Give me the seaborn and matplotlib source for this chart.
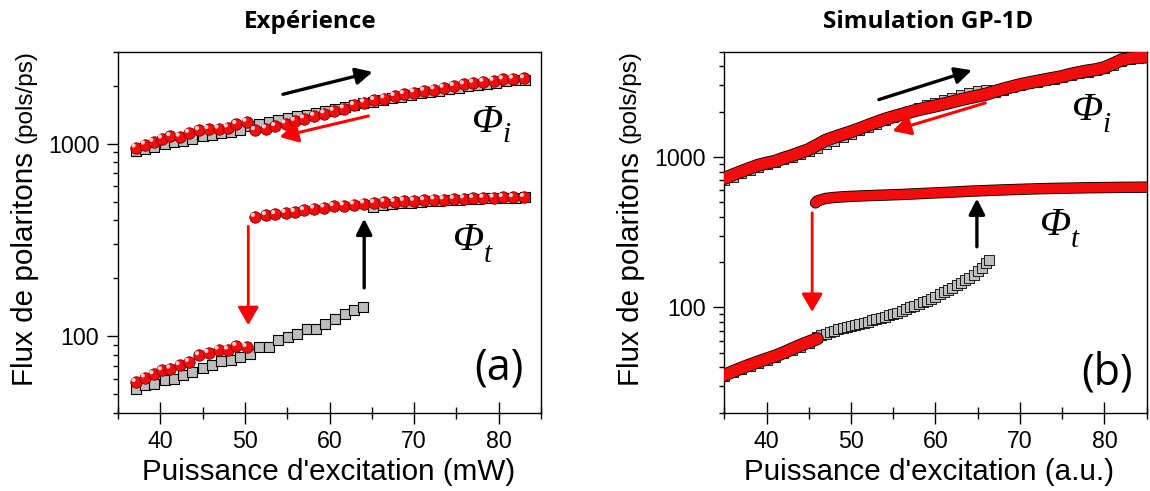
import matplotlib
matplotlib.use("Agg")
import matplotlib.pyplot as plt
import matplotlib.ticker as mticker
from matplotlib.transforms import offset_copy
import seaborn as sns

# ---------------- Panel (a) : experiment ----------------
# up-sweep (grey squares)
exp_sq_x = [37.1, 38.2, 39.3, 40.5, 41.6, 42.7, 43.8, 45.0, 46.1, 47.2, 48.3, 49.4,
            50.6, 51.7, 52.8, 53.9, 55.1, 56.2, 57.3, 58.4, 59.5, 60.7, 61.8, 62.9,
            64.0, 65.2, 66.3, 67.4, 68.5, 69.6, 70.8, 71.9, 73.0, 74.1, 75.3, 76.4,
            77.5, 78.6, 79.7, 80.9, 82.0, 83.1]
exp_sq_phi_i = [915, 940, 965, 990, 1015, 1035, 1060, 1090, 1110, 1130, 1150, 1175,
                1240, 1265, 1295, 1325, 1355, 1385, 1415, 1445, 1475, 1510, 1545, 1580,
                1615, 1650, 1680, 1720, 1755, 1790, 1820, 1850, 1880, 1915, 1950, 1985,
                2020, 2050, 2075, 2105, 2130, 2150]
exp_sq_phi_t_low = [53.3, 55.4, 56.6, 58.9, 60.1, 62.5, 65.0, 68.2, 71.0, 73.9, 74.8,
                    77.8, 81.0, 87.7, 87.7, 95.0, 98.8, 102.9, 109.2, 109.2, 115.9,
                    123.1, 130.7, 136.1, 141.6]
exp_sq_phi_t_high = [470, 478, 484, 490, 494, 498, 502, 506, 509, 512, 515, 517, 519,
                     521, 523, 524, 526]

# down-sweep (red circles)
exp_red_x_low = [37.1, 38.2, 39.2, 40.2, 41.2, 42.3, 43.4, 44.6, 45.7, 46.9, 48.0,
                 49.0, 50.2]
exp_red_phi_i_low = [953, 988, 1019, 1061, 1091, 1085, 1135, 1173, 1187, 1195, 1211,
                     1260, 1295]
exp_red_phi_t_low = [57.6, 60.8, 63.2, 66.3, 67.7, 70.5, 73.3, 79.4, 81.6, 85.0, 85.0,
                     88.7, 87.7]
exp_red_x_high = [51.2, 52.5, 53.6, 54.8, 55.9, 57.0, 58.2, 59.4, 60.5, 61.7, 62.9,
                  64.1, 65.3, 66.5, 67.7, 68.8, 70.0, 71.2, 72.4, 73.5, 74.7, 75.9,
                  77.0, 78.2, 79.4, 80.5, 81.7, 83.0]
exp_red_phi_i_high = [1173, 1197, 1230, 1270, 1310, 1349, 1391, 1431, 1477, 1520, 1582,
                      1634, 1679, 1714, 1762, 1804, 1841, 1877, 1908, 1946, 1986, 2027,
                      2066, 2090, 2115, 2152, 2168, 2178]
exp_red_phi_t_high = [415, 424, 429, 436, 441, 450, 459, 465, 472, 476, 482, 488, 491,
                      497, 497, 503, 503, 507, 512, 512, 515, 518, 520, 522, 524, 526,
                      526, 527]

# ---------------- Panel (b) : GP-1D simulation ----------------
sim_x = [35, 36, 37, 38, 39, 40, 41, 42, 43, 44, 45, 46, 47, 48, 49, 50, 51, 52, 53,
         54, 55, 56, 57, 58, 59, 60, 61, 62, 63, 64, 65, 66, 67, 68, 69, 70, 71, 72,
         73, 74, 75, 76, 77, 78, 79, 80, 81, 82, 83, 84, 85]
sim_red_phi_i = [720, 760, 800, 840, 880, 910, 935, 980, 1020, 1070, 1120, 1200, 1290,
                 1350, 1410, 1470, 1540, 1620, 1700, 1780, 1850, 1920, 1990, 2060,
                 2120, 2180, 2250, 2320, 2400, 2470, 2540, 2610, 2720, 2820, 2920,
                 3020, 3100, 3180, 3260, 3340, 3420, 3540, 3640, 3730, 3800, 3920,
                 4150, 4400, 4520, 4580, 4620]
sim_sq_phi_i = [700, 740, 780, 820, 860, 895, 925, 965, 1005, 1050, 1095, 1150, 1210,
                1280, 1350, 1420, 1500, 1580, 1660, 1750, 1840, 1930, 2020, 2110, 2200,
                2290, 2380, 2470, 2560, 2650, 2730, 2800, 2700, 2800, 2900, 3000, 3080,
                3160, 3240, 3310, 3390, 3500, 3600, 3690, 3760, 3880, 4100, 4350, 4480,
                4540, 4590]

sim_red_x_high = [45.8, 46, 47, 48, 49, 50, 52, 54, 56, 58, 60, 62, 64, 66, 68, 70, 72,
                  74, 76, 78, 80, 82, 84, 85]
sim_red_phi_t_high = [495, 510, 530, 538, 543, 547, 553, 558, 563, 570, 577, 584, 592,
                      598, 604, 609, 614, 618, 621, 624, 626, 628, 629, 630]
sim_sq_x_high = [65, 67, 69, 71, 73, 75, 77, 79, 81, 83, 85]
sim_sq_phi_t_high = [600, 608, 615, 620, 624, 628, 631, 634, 636, 637, 638]

sim_red_x_low = [35, 36, 37, 38, 39, 40, 41, 42, 43, 44, 45, 46]
sim_red_phi_t_low = [35.5, 37.5, 39.5, 41.5, 43.5, 45.5, 47.5, 50, 53, 56, 59, 62]
sim_sq_x_low = [35, 36, 37, 38, 39, 40, 41, 42, 43, 44, 45, 46, 46.5, 47, 47.5, 48,
                48.5, 49, 49.5, 50, 50.5, 51, 51.5, 52, 52.5, 53, 53.5, 54, 54.5, 55,
                55.5, 56, 56.5, 57, 57.5, 58, 58.5, 59, 59.5, 60, 60.5, 61, 61.5, 62,
                62.5, 63, 63.5, 64, 64.5, 65, 65.5, 66, 66.3]
sim_sq_phi_t_low = [35, 37, 39, 41, 43, 45, 47, 49.5, 52, 55, 58, 64, 65.5, 67, 68.5,
                    70, 71.5, 72.5, 74, 75, 76, 77.5, 79, 80.5, 82, 83.5, 85, 86.5,
                    88.5, 90.5, 92.5, 95, 97.5, 100, 102.5, 105, 108, 111, 114.5, 118,
                    122, 126, 130, 135, 140, 146, 152, 158, 165, 174, 184, 196, 206]

# ---------------- figure ----------------
sns.set_style("ticks")
plt.rcParams["font.family"] = ["Liberation Sans", "DejaVu Sans"]
plt.rcParams["text.color"] = "black"

W, H = 1150, 491
fig = plt.figure(figsize=(W / 100, H / 100), dpi=100)


def fx(x):
    return x / W


def fy(y):
    return 1 - y / H


axA = fig.add_axes([fx(118), fy(412.7), 423 / W, 361 / H])
axB = fig.add_axes([fx(724.3), fy(412.7), 422.4 / W, 361 / H])

GREY = "#bdbdbd"
RED = "#f20c0c"


def style_axis(ax, ylim):
    ax.set_yscale("log")
    ax.set_xlim(35, 85)
    ax.set_ylim(*ylim)
    ax.xaxis.set_major_locator(mticker.MultipleLocator(10))
    ax.xaxis.set_minor_locator(mticker.MultipleLocator(5))
    ax.yaxis.set_major_locator(mticker.LogLocator(base=10))
    ax.yaxis.set_minor_locator(mticker.LogLocator(base=10, subs=range(2, 10)))
    ax.yaxis.set_major_formatter(mticker.FuncFormatter(lambda v, p: f"{v:g}"))
    ax.yaxis.set_minor_formatter(mticker.NullFormatter())
    ax.tick_params(axis="x", which="major", direction="inout", length=16, width=1,
                   labelsize=16.7, pad=4.5, colors="black")
    ax.tick_params(axis="x", which="minor", direction="inout", length=8.5, width=1,
                   colors="black")
    ax.tick_params(axis="y", which="major", direction="out", length=8, width=1,
                   labelsize=16.7, pad=5.5, colors="black")
    ax.tick_params(axis="y", which="minor", direction="out", length=3.8, width=1,
                   colors="black")
    ax.tick_params(top=False, right=False)
    for s in ax.spines.values():
        s.set_linewidth(1.0)
        s.set_color("black")
        s.set_visible(True)
    ax.set_xlabel("")
    ax.set_ylabel("")


style_axis(axA, (40, 3000))
style_axis(axB, (20, 5000))


def red_balls(ax, x, y):
    sns.scatterplot(x=x, y=y, marker="o", s=68, color=RED, edgecolor="#7a0000",
                    linewidth=0.6, ax=ax, zorder=3, legend=False)
    hl = offset_copy(ax.transData, fig=fig, x=-2.2, y=2.2, units="dots")
    ax.scatter(x, y, s=9, color="#ffd0d0", edgecolor="none", transform=hl, zorder=4)


def grey_squares(ax, x, y, s=52, lw=0.8):
    sns.scatterplot(x=x, y=y, marker="s", s=s, color=GREY, edgecolor="black",
                    linewidth=lw, ax=ax, zorder=2, legend=False)


# panel (a)
grey_squares(axA, exp_sq_x, exp_sq_phi_i)
grey_squares(axA, exp_sq_x[:25], exp_sq_phi_t_low)
grey_squares(axA, exp_sq_x[25:], exp_sq_phi_t_high)
red_balls(axA, exp_red_x_low, exp_red_phi_i_low)
red_balls(axA, exp_red_x_low, exp_red_phi_t_low)
red_balls(axA, exp_red_x_high, exp_red_phi_i_high)
red_balls(axA, exp_red_x_high, exp_red_phi_t_high)

# panel (b)
grey_squares(axB, sim_x, sim_sq_phi_i, s=42, lw=0.6)
grey_squares(axB, sim_sq_x_high, sim_sq_phi_t_high, s=30, lw=0.6)
grey_squares(axB, sim_sq_x_low, sim_sq_phi_t_low, s=45, lw=0.6)
for xs, ys, lw in [(sim_x, sim_red_phi_i, 8.2), (sim_red_x_high, sim_red_phi_t_high, 7.0),
                   (sim_red_x_low, sim_red_phi_t_low, 8.2)]:
    sns.lineplot(x=xs, y=ys, color="black", lw=lw + 1.2, estimator=None, ax=axB,
                 zorder=3, solid_capstyle="round")
    sns.lineplot(x=xs, y=ys, color=RED, lw=lw, estimator=None, ax=axB, zorder=4,
                 solid_capstyle="round")


def arrow(ax, tail, tip, color, lw, hl, hw):
    ax.annotate("", xy=tip, xytext=tail, xycoords="data", zorder=6,
                arrowprops=dict(arrowstyle=f"-|>,head_length={hl},head_width={hw}",
                                color=color, lw=lw, mutation_scale=20,
                                shrinkA=0, shrinkB=0))


arrow(axA, (54.5, 1803), (65.1, 2355), "black", 2.4, 0.5, 0.25)
arrow(axA, (64.6, 1391), (54.1, 1082), "red", 2.2, 0.55, 0.3)
arrow(axA, (50.4, 372), (50.4, 114), "red", 2.0, 0.55, 0.32)
arrow(axA, (64.1, 178), (64.1, 407), "black", 2.4, 0.47, 0.24)

arrow(axB, (53.3, 2404), (64.3, 3767), "black", 2.4, 0.5, 0.25)
arrow(axB, (65.9, 2284), (54.9, 1488), "red", 2.2, 0.55, 0.3)
arrow(axB, (45.4, 425), (45.4, 93.5), "red", 2.0, 0.55, 0.32)
arrow(axB, (64.9, 253), (64.9, 529), "black", 2.4, 0.47, 0.24)

# labels
for xc, txt in [(310.5, "Expérience"), (928, "Simulation GP-1D")]:
    fig.text(fx(xc), fy(28.3), txt, ha="center", va="baseline", fontsize=17.5,
             fontweight="bold", family=["Open Sans", "DejaVu Sans"])

for xc, txt in [(329, "Puissance d'excitation (mW)"), (928.7, "Puissance d'excitation (a.u.)")]:
    fig.text(fx(xc), fy(480), txt, ha="center", va="baseline", fontsize=21.3)

for xb, xs in [(33.3, 31.5), (639.3, 636)]:
    fig.text(fx(xb), fy(269.5), "Flux de polaritons", rotation=90, rotation_mode="anchor",
             ha="center", va="baseline", fontsize=21.3)
    fig.text(fx(xs), fy(97), "(pols/ps)", rotation=90, rotation_mode="anchor",
             ha="center", va="baseline", fontsize=17.5)

fig.text(fx(498.6), fy(368.5), "(a)", ha="center", va="center", fontsize=31,
         family=["Open Sans", "DejaVu Sans"])
fig.text(fx(1107), fy(373), "(b)", ha="center", va="center", fontsize=31,
         family=["Open Sans", "DejaVu Sans"])

serif = ["Liberation Serif", "DejaVu Serif"]
for (xl, yb, xs, ys, sub) in [(471.7, 131.7, 502, 141.7, "i"),
                              (452.7, 250, 484, 262, "t"),
                              (1071.7, 120, 1102, 131.7, "i"),
                              (1040, 235, 1071, 247, "t")]:
    fig.text(fx(xl), fy(yb), "Φ", ha="left", va="baseline", fontsize=29.5,
             fontstyle="italic", family=serif)
    fig.text(fx(xs), fy(ys), sub, ha="left", va="baseline", fontsize=21,
             fontstyle="italic", family=serif)

fig.savefig("out.png", dpi=100, facecolor="white")
